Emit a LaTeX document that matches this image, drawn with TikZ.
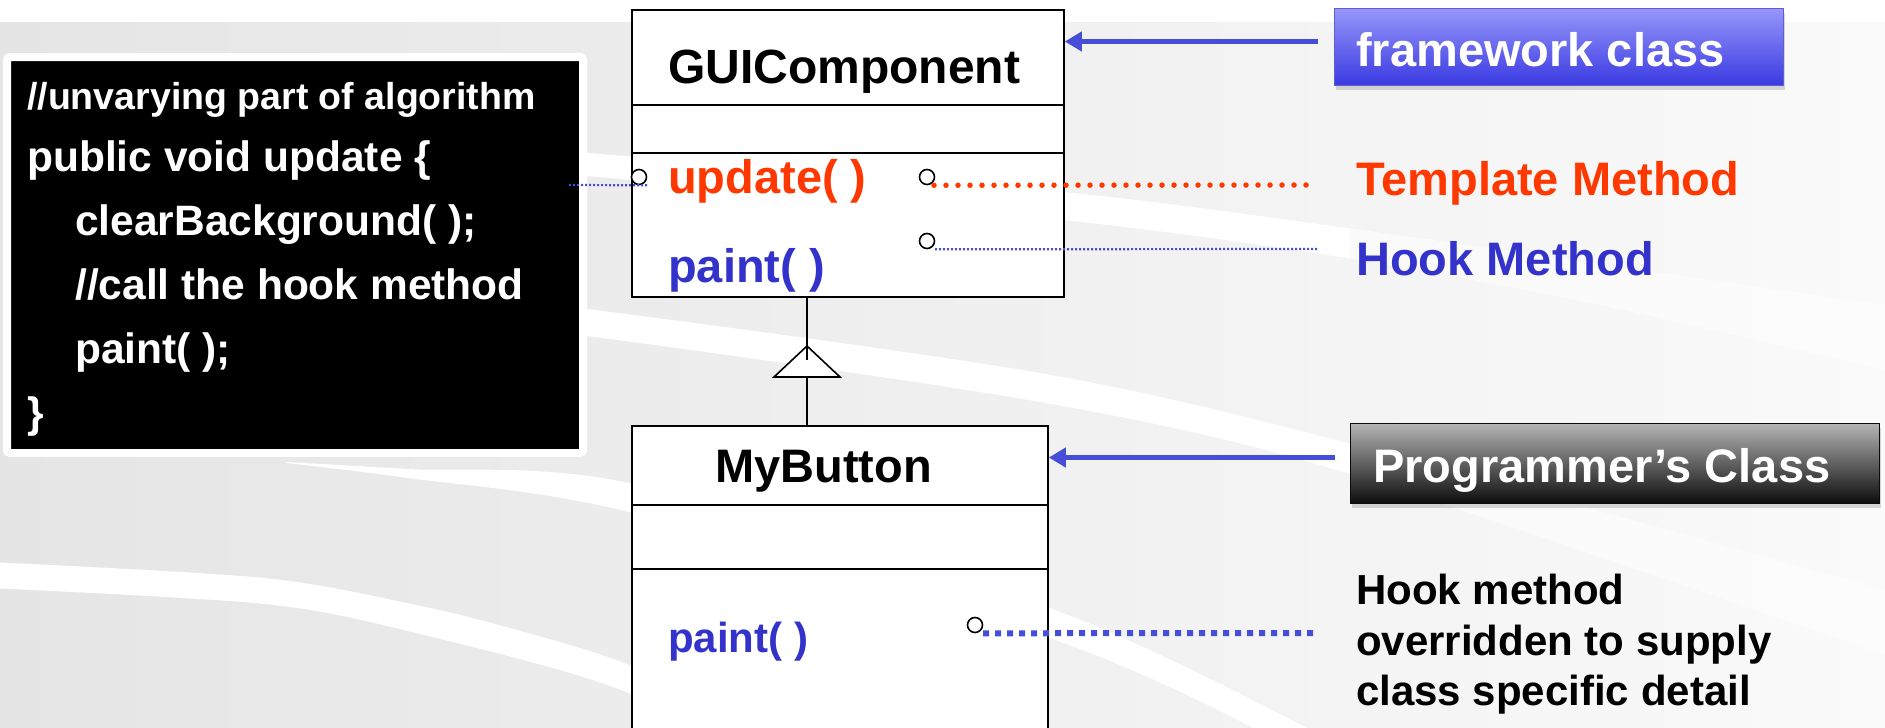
\documentclass[tikz,border=0pt]{standalone}
\usepackage{fontspec}
\setmainfont{Liberation Sans}
\usetikzlibrary{arrows.meta,shadows,calc}
\definecolor{tred}{RGB}{255,56,0}
\definecolor{tblue}{RGB}{51,51,204}
\definecolor{ablue}{RGB}{70,78,216}
\definecolor{bgL}{RGB}{229,229,229}
\definecolor{bgM}{RGB}{240,240,240}
\definecolor{bgR}{RGB}{250,250,250}
\definecolor{fwtop}{RGB}{150,150,250}
\definecolor{fwbot}{RGB}{58,58,226}
\definecolor{fwedge}{RGB}{95,95,205}
\definecolor{pctop}{RGB}{180,180,180}
\definecolor{pcmid}{RGB}{78,78,78}
\definecolor{pcbot}{RGB}{12,12,12}
\newcommand\fsz[1]{\fontsize{#1}{#1}\selectfont\bfseries}
\newcommand\bandpaths{%
\fill[band] plot[smooth] coordinates {(380,138) (587,153) (1063,192) (1340,227) (1600,264) (1885,305)}
  -- plot[smooth] coordinates {(1885,370) (1600,305) (1340,257) (1063,220) (587,176) (380,160)} -- cycle;
\fill[band] plot[smooth] coordinates {(380,290) (587,309) (1040,373) (1340,441) (1885,590)}
  -- plot[smooth] coordinates {(1885,655) (1340,471) (1040,402) (587,336) (380,316)} -- cycle;
\fill[band] plot[smooth] coordinates {(286,462) (408,469) (629,483) (1047,607) (1307,728) (1345,760)}
  -- plot[smooth] coordinates {(1275,760) (1253,728) (1047,637) (629,512) (408,478) (286,463)} -- cycle;
\fill[band] plot[smooth] coordinates {(-10,562) (265,578) (416,605) (506,627) (629,665) (800,745)}
  -- plot[smooth] coordinates {(800,790) (629,693) (416,633) (265,604) (-10,588)} -- cycle;}
\begin{document}
\begin{tikzpicture}[x=1pt,y=-1pt,
  txt/.style={inner sep=0pt, anchor=base west, font=\fsz{47}},
  codeln/.style={inner sep=0pt, anchor=base west, text=white, font=\fsz{42.5}},
  cls/.style={draw=black, line width=1.8pt, fill=white, inner sep=0pt, anchor=north west},
  divider/.style={draw=black, line width=1.8pt},
  circ/.style={circle, draw=black, line width=1.6pt, fill=white, minimum size=15pt, inner sep=0pt},
  bluearrow/.style={draw=ablue, line width=5pt, -{Triangle[length=17pt,width=19pt]}},
  dotorange/.style={draw=tred, line width=5.5pt, line cap=round, dash pattern=on 0pt off 12pt},
  dotfine/.style={draw=ablue, line width=2.2pt, dash pattern=on 2pt off 2pt},
  dotsquare/.style={draw=ablue, line width=6pt, dash pattern=on 6pt off 6pt},
  uml/.style={draw=black, line width=1.6pt},
  band/.style={fill=white}
]
\useasboundingbox (0,0) rectangle (1885,728);
\begin{scope}
\clip (0,0) rectangle (1885,728);
% background
\shade[left color=bgL, right color=bgM] (0,0) rectangle (1000,728);
\shade[left color=bgM, right color=bgR] (1000,0) rectangle (1885,728);
\fill[white] (0,0) rectangle (1885,22);
% white swooshes, fading out to the right
\begin{scope}
\clip (-10,0) rectangle (1350,740);
\bandpaths
\end{scope}
\begin{scope}[opacity=0.55]
\clip (1350,0) rectangle (1900,740);
\bandpaths
\end{scope}

% code box
\node[fill=black, draw=white, line width=8pt, rounded corners=3pt, minimum width=576pt, minimum height=396pt,
  inner sep=0pt, drop shadow={opacity=0.35, shadow xshift=0pt, shadow yshift=-4pt}] (code) at (295,255) {};
\node[codeln, font=\fsz{37.5}] (l1) at (27,109) {//unvarying part of algorithm};
\node[codeln] (l2) at (27,171) {public void update \{};
\node[codeln] (l3) at (75,235) {clearBackground( );};
\node[codeln] (l4) at (75,299) {//call the hook method};
\node[codeln] (l5) at (75,363) {paint( );};
\node[codeln] (l6) at (27,427) {\}};

% GUIComponent class
\node[cls, minimum width=432pt, minimum height=287pt] (gui) at (631,9) {};
\draw[divider] (gui.west |- 0,105) -- (gui.east |- 0,105);
\draw[divider] (gui.west |- 0,153) -- (gui.east |- 0,153);
\node[txt, font=\fsz{48}] (guiname) at (668,83) {GUIComponent};
\node[txt, text=tred] (upd) at (668,193) {update( )};
\node[txt, text=tblue] (pnt) at (668,282) {paint( )};

% MyButton class
\node[cls, minimum width=416pt, minimum height=312pt] (mb) at (631,425) {};
\draw[divider] (mb.west |- 0,505) -- (mb.east |- 0,505);
\draw[divider] (mb.west |- 0,569) -- (mb.east |- 0,569);
\node[txt] (mbname) at (715,482) {MyButton};
\node[txt, text=tblue, font=\fsz{42}] (mbpnt) at (668,652) {paint( )};

% inheritance
\coordinate (tri) at (807,346);
\draw[uml, fill=white] (tri) -- ++(33,31) -- ++(-66,0) -- cycle;
\draw[uml] (gui.south -| tri) -- ($(tri)+(0,14)$);
\draw[uml] ($(tri)+(0,31)$) -- (tri |- mb.north);

% circles
\node[circ] (c0) at (639,177) {};
\node[circ] (c1) at (927,177) {};
\node[circ] (c2) at (927,241) {};
\node[circ] (c3) at (975,625) {};

% labels
\node[cls, draw=fwedge, line width=1pt, top color=fwtop, bottom color=fwbot, minimum width=449pt, minimum height=77pt,
  drop shadow={opacity=0.3, shadow xshift=1pt, shadow yshift=-4pt}] (fw) at (1334,8) {};
\node[txt, text=white] (fwt) at (1356,66) {framework class};
\node[txt, text=tred] (tm) at (1356,195) {Template Method};
\node[txt, text=tblue] (hm) at (1356,275) {Hook Method};
\node[cls, draw=pcbot, line width=1pt, top color=pctop, middle color=pcmid, bottom color=pcbot, minimum width=529pt, minimum height=80pt,
  drop shadow={opacity=0.3, shadow xshift=1pt, shadow yshift=-4pt}] (pc) at (1350,423) {};
\node[txt, text=white] (pct) at (1373,482) {Programmer’s Class};
\node[txt, font=\fsz{42}] (ov1) at (1356,604) {Hook method};
\node[txt, font=\fsz{42}] (ov2) at (1356,655) {overridden to supply};
\node[txt, font=\fsz{42}] (ov3) at (1356,705) {class specific detail};

% connectors
\coordinate (fwa) at ($(fw.west)+(-16,-5.5)$);
\draw[bluearrow] (fwa) -- (fwa -| gui.east);
\coordinate (pca) at ($(pc.west)+(-15,-6)$);
\draw[bluearrow] (pca) -- (pca -| mb.east);
\coordinate (codeend) at (569,185);
\draw[dotfine] (codeend) -- ($(c0.south)+(8,0)$);
\coordinate (tmend) at (1307,185);
\draw[dotorange] ($(c1.south)+(7,0)$) -- (tmend);
\coordinate (hmend) at (1317,249);
\draw[dotfine] ($(c2.south)+(8,0)$) -- (hmend);
\coordinate (ovend) at (1313,633);
\draw[dotsquare] ($(c3.south)+(8,0)$) -- (ovend);
\end{scope}
\end{tikzpicture}
\end{document}
